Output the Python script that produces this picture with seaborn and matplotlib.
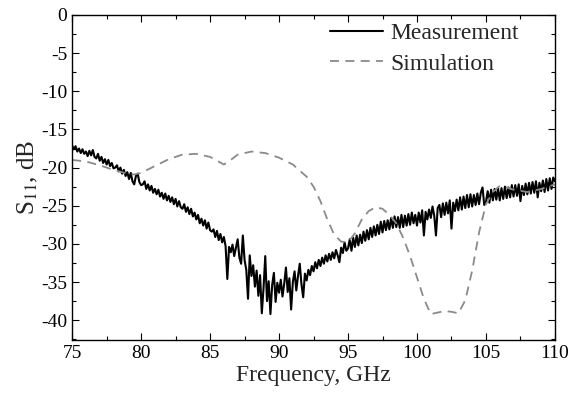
import numpy as np
import pandas as pd
import matplotlib
matplotlib.use("Agg")
import matplotlib.pyplot as plt
from matplotlib.ticker import MultipleLocator
import seaborn as sns

# Measurement: S11 (dB) on a 0.125 GHz grid from 75 to 110 GHz
meas_db = [
    -17.1, -17.6, -17.2, -17.9, -17.5, -18.1, -17.6, -18.2,
    -17.9, -18.5, -17.8, -18.4, -17.7, -18.6, -18.8, -18.2,
    -19.1, -18.6, -19.4, -18.9, -19.6, -19.0, -19.8, -19.4,
    -20.1, -20.0, -19.7, -20.5, -20.0, -20.8, -20.3, -21.1,
    -20.6, -21.5, -20.7, -21.8, -22.2, -21.1, -20.8, -21.9,
    -22.3, -22.2, -21.8, -22.8, -22.2, -23.0, -22.4, -23.3,
    -22.8, -23.5, -22.9, -23.8, -23.3, -24.1, -23.4, -24.3,
    -23.7, -24.5, -23.9, -24.8, -24.1, -25.1, -24.4, -25.2,
    -25.4, -24.8, -25.8, -25.2, -26.1, -25.4, -26.4, -25.9,
    -26.8, -26.2, -27.3, -26.7, -27.6, -26.9, -28.0, -27.2,
    -28.2, -28.4, -28.1, -29.1, -28.3, -29.5, -28.7, -29.8,
    -29.1, -30.3, -34.6, -30.4, -31.1, -30.1, -31.6, -30.5,
    -29.4, -31.8, -32.6, -28.9, -32.1, -33.4, -37.2, -31.5,
    -34.2, -32.8, -35.6, -33.5, -36.8, -34.1, -39.1, -35.8,
    -31.6, -37.5, -34.9, -39.2, -35.4, -33.8, -37.6, -35.1,
    -36.4, -34.7, -36.9, -35.2, -33.1, -36.3, -34.5, -38.6,
    -35.0, -33.6, -36.1, -34.2, -32.6, -35.3, -37.0, -33.9,
    -34.8, -33.4, -34.1, -32.9, -33.6, -32.4, -33.2, -32.1,
    -32.9, -31.8, -32.6, -31.5, -32.3, -31.3, -32.1, -31.1,
    -31.9, -30.8, -31.5, -32.4, -30.5, -31.2, -29.8, -30.9,
    -30.6, -29.4, -30.9, -29.2, -30.4, -28.9, -30.2, -28.8,
    -29.9, -28.4, -29.6, -28.2, -29.4, -27.9, -29.1, -27.7,
    -28.9, -27.5, -28.7, -27.1, -28.5, -27.0, -28.2, -26.9,
    -28.1, -26.6, -27.9, -26.4, -27.8, -26.5, -27.9, -26.2,
    -27.8, -26.3, -27.6, -26.1, -27.5, -25.9, -27.3, -26.2,
    -27.6, -25.9, -27.2, -25.6, -28.9, -25.8, -26.8, -25.5,
    -26.6, -25.1, -26.3, -28.9, -25.3, -24.9, -26.5, -24.7,
    -26.2, -24.6, -26.0, -24.3, -28.0, -24.6, -25.7, -24.2,
    -25.6, -23.9, -25.5, -23.8, -25.3, -23.6, -25.2, -23.5,
    -25.1, -23.6, -24.9, -23.4, -24.8, -23.3, -22.6, -24.9,
    -24.5, -23.1, -24.6, -22.9, -24.3, -22.8, -24.2, -22.7,
    -24.3, -22.7, -24.1, -22.5, -24.0, -22.6, -23.9, -22.3,
    -23.8, -22.3, -23.7, -22.2, -24.4, -22.4, -23.6, -22.1,
    -23.5, -22.0, -23.4, -21.9, -23.3, -21.8, -23.9, -22.0,
    -23.1, -21.7, -23.2, -21.5, -23.0, -21.4, -22.8, -21.3,
    -21.8,
]
meas_f = np.linspace(75, 110, len(meas_db))

# Simulation
sim_f = [75, 76, 77, 78, 79, 79.5, 80, 81, 82, 83, 84, 85, 85.5, 86, 86.5, 87,
         88, 89, 90, 91, 92, 92.5, 93, 93.5, 94, 94.5, 95, 95.5, 96, 96.5, 97,
         97.5, 98, 98.5, 99, 99.5, 100, 100.5, 101, 101.5, 102, 102.5, 103,
         103.5, 104, 104.5, 105, 105.5, 106, 106.5, 107, 108, 109, 110]
sim_db = [-19.0, -19.2, -19.7, -20.3, -20.8, -20.9, -20.7, -19.8, -18.9, -18.3,
          -18.2, -18.6, -19.1, -19.6, -19.0, -18.3, -17.9, -18.1, -18.7, -19.6,
          -21.2, -22.5, -24.4, -26.8, -28.8, -29.7, -29.8, -28.6, -26.8, -25.7,
          -25.2, -25.4, -26.2, -27.3, -29.2, -31.6, -34.4, -37.2, -39.2, -39.0,
          -38.8, -38.9, -39.1, -37.4, -33.5, -28.5, -24.8, -23.2, -22.4, -22.6,
          -22.9, -23.2, -22.8, -22.2]

x_ticks = [75, 80, 85, 90, 95, 100, 105, 110]
y_ticks = [0, -5, -10, -15, -20, -25, -30, -35, -40]

sns.set_theme(style="ticks")
plt.rcParams['font.family'] = ['Liberation Serif', 'DejaVu Serif']
plt.rcParams['mathtext.fontset'] = 'stix'
plt.rcParams['axes.unicode_minus'] = False

fig = plt.figure(figsize=(5.68, 3.94), dpi=100)
ax = fig.add_axes([0.127, 0.137, 0.850, 0.825])

meas = pd.DataFrame({"f": meas_f, "s": meas_db})
sim = pd.DataFrame({"f": sim_f, "s": sim_db})

sns.lineplot(data=meas, x="f", y="s", ax=ax, color="black", linewidth=1.5,
             label="Measurement", sort=False)
sns.lineplot(data=sim, x="f", y="s", ax=ax, color="#8a8a8a", linewidth=1.3,
             label="Simulation", sort=False, dashes=False)
ax.lines[1].set_dashes([5, 3.5])

ax.set_xlim(75, 110)
ax.set_ylim(-42.6, 0)
ax.set_xticks(x_ticks)
ax.set_yticks(y_ticks)
ax.xaxis.set_minor_locator(MultipleLocator(2.5))
ax.yaxis.set_minor_locator(MultipleLocator(2.5))
ax.tick_params(which="both", direction="in", top=True, right=True,
               labelsize=14, colors="black", width=0.8)
ax.tick_params(which="major", length=5)
ax.tick_params(which="minor", length=3)
for sp in ax.spines.values():
    sp.set_linewidth(1.0)
    sp.set_color("black")

ax.set_xlabel("Frequency, GHz", fontsize=17, labelpad=2)
ax.set_ylabel(r"S$_{11}$, dB", fontsize=18, labelpad=1)

leg = ax.legend(loc="upper right", frameon=False, fontsize=17,
                handlelength=2.25, handletextpad=0.3, labelspacing=0.38,
                borderaxespad=0.2, bbox_to_anchor=(0.955, 1.02))

fig.savefig("out.png", dpi=100)
